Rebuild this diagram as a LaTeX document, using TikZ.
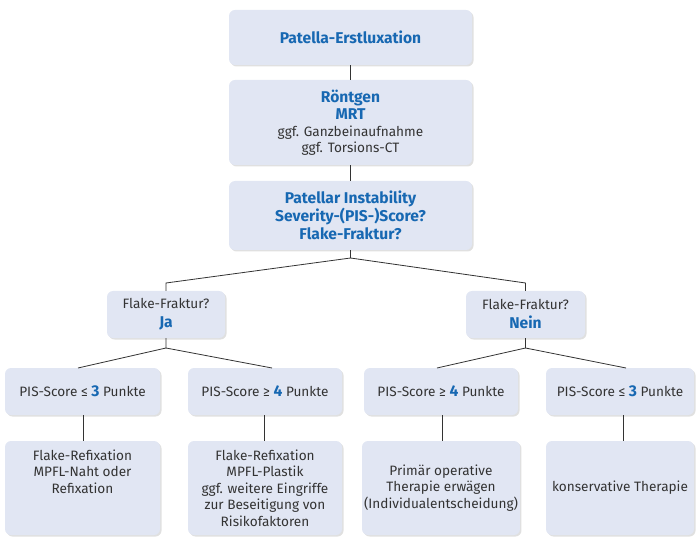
\documentclass[tikz,border=0pt]{standalone}
\usepackage{fontspec}
\setmainfont{Fira Sans}
\usetikzlibrary{shadows}
\definecolor{boxfill}{HTML}{E1E6F3}
\definecolor{hiblue}{HTML}{1768B2}
\definecolor{ink}{HTML}{333333}
\tikzset{
  box/.style={fill=boxfill,rounded corners=6pt,align=center,inner sep=2pt,
    text=ink,font=\fontsize{13.6}{16.5}\selectfont,
    drop shadow={shadow xshift=1.5pt,shadow yshift=-1.5pt,opacity=0.12,fill=black}},
  conn/.style={draw=ink,line width=0.8pt}
}
\newcommand{\hb}[1]{{\fontsize{15.6}{18}\selectfont\bfseries\color{hiblue}#1}}
\begin{document}
\begin{tikzpicture}[x=1pt,y=-1pt]
        \useasboundingbox (0,0) rectangle (696,537);
        % oberer Strang
        \node[box,minimum width=243pt,minimum height=55pt] (erst) at (350.5,37.5) {\hb{Patella-Erstluxation}};
        \node[box,minimum width=243pt,minimum height=85pt] (bild) at (350.5,122.5)
            {\hb{Röntgen}\\[1pt]\hb{MRT}\\ggf. Ganzbeinaufnahme\\ggf. Torsions-CT};
        \node[box,minimum width=243pt,minimum height=69pt,font=\fontsize{13.6}{18}\selectfont] (pis) at (350.5,215.5)
            {\hb{Patellar Instability}\\\hb{Severity-(PIS-)Score?}\\\hb{Flake-Fraktur?}};
        % Flake-Fraktur
        \node[box,minimum width=118pt,minimum height=47pt,font=\fontsize{13.6}{19}\selectfont] (ja) at (166,314.5) {Flake-Fraktur?\\\hb{Ja}};
        \node[box,minimum width=119pt,minimum height=47pt,font=\fontsize{13.6}{19}\selectfont] (nein) at (525.5,314.5) {Flake-Fraktur?\\\hb{Nein}};
        % PIS-Score
        \node[box,minimum width=155pt,minimum height=47pt] (jaklein) at (82.5,391.5) {PIS-Score ≤ \hb{3} Punkte};
        \node[box,minimum width=154pt,minimum height=47pt] (jagross) at (265,391.5) {PIS-Score ≥ \hb{4} Punkte};
        \node[box,minimum width=154pt,minimum height=47pt] (neingross) at (441,391.5) {PIS-Score ≥ \hb{4} Punkte};
        \node[box,minimum width=148pt,minimum height=47pt] (neinklein) at (620,391.5) {PIS-Score ≤ \hb{3} Punkte};
        % Therapie
        \node[box,minimum width=155pt,minimum height=94pt] (th1) at (82.5,488)
            {Flake-Refixation\\MPFL-Naht oder\\Refixation\\\mbox{}\\\mbox{}};
        \node[box,minimum width=154pt,minimum height=94pt] (th2) at (265,488)
            {Flake-Refixation\\MPFL-Plastik\\ggf. weitere Eingriffe\\zur Beseitigung von\\Risikofaktoren};
        \node[box,minimum width=154pt,minimum height=94pt] (th3) at (441,488)
            {Primär operative\\Therapie erwägen\\(Individualentscheidung)};
        \node[box,minimum width=148pt,minimum height=94pt] (th4) at (620,488) {konservative Therapie};
        % Verbindungen
        \draw[conn] (erst) -- (bild);
        \draw[conn] (bild) -- (pis);
        \coordinate (v1) at (350.5,258);
        \coordinate (vj) at (166,283);
        \coordinate (vn) at (525.5,283);
        \draw[conn] (pis.south) -- (v1) -- (vj) -- (ja.north);
        \draw[conn] (v1) -- (vn) -- (nein.north);
        \coordinate (v2) at (166,348);
        \coordinate (v3) at (525.5,348);
        \draw[conn] (ja.south) -- (v2) -- (78,368);
        \draw[conn] (v2) -- (272,368);
        \draw[conn] (nein.south) -- (v3) -- (437,368);
        \draw[conn] (v3) -- (626,368);
        \draw[conn] (jaklein.south -| 83,0) -- (th1.north -| 83,0);
        \draw[conn] (jagross.south -| 264,0) -- (th2.north -| 264,0);
        \draw[conn] (neingross.south -| 442,0) -- (th3.north -| 442,0);
        \draw[conn] (neinklein.south -| 623,0) -- (th4.north -| 623,0);
    \end{tikzpicture}
\end{document}
